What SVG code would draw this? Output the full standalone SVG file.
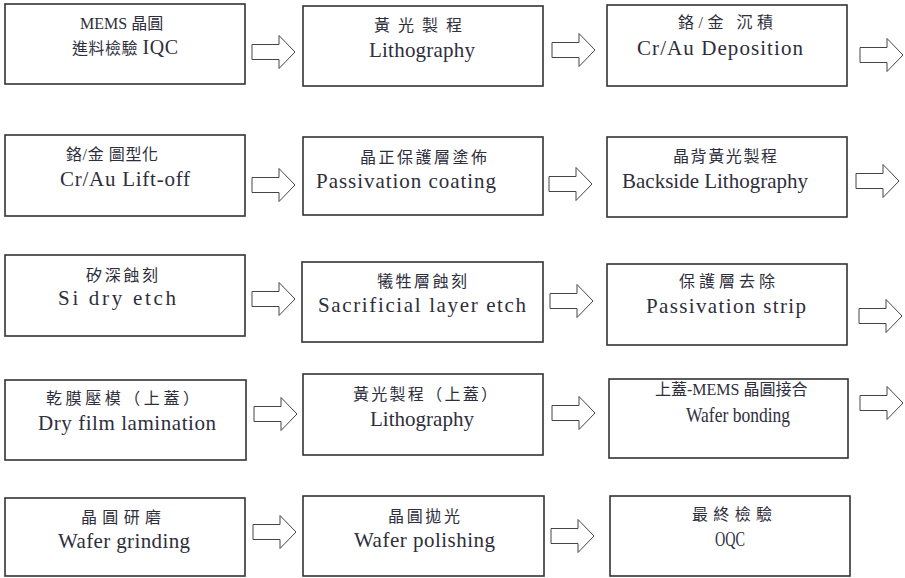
<svg xmlns="http://www.w3.org/2000/svg" xmlns:xlink="http://www.w3.org/1999/xlink" width="905" height="578" viewBox="0 0 905 578">
<style>
.box{fill:#fff;stroke:#333;stroke-width:1.6}
.arr{fill:#fff;stroke:#444;stroke-width:1}
text{font-family:"Liberation Serif","Noto Sans CJK TC",serif;fill:#2e2e3c}
.c{font-size:16px}
.l{font-size:21px}
.lt{font-size:20px}
</style>
<defs>
<path id="arrow" d="M0,-7.5 H27 V-16.5 L43,0 L27,16.5 V7.5 H0 Z"/>
</defs>
<rect width="905" height="578" fill="#fff"/>
<g id="connectors">
<use xlink:href="#arrow" class="arr" x="252" y="52"/>
<use xlink:href="#arrow" class="arr" x="552" y="50"/>
<use xlink:href="#arrow" class="arr" x="860" y="55"/>
<use xlink:href="#arrow" class="arr" x="252" y="185"/>
<use xlink:href="#arrow" class="arr" x="549" y="184"/>
<use xlink:href="#arrow" class="arr" x="856" y="181"/>
<use xlink:href="#arrow" class="arr" x="252" y="299"/>
<use xlink:href="#arrow" class="arr" x="550" y="301"/>
<use xlink:href="#arrow" class="arr" x="859" y="316"/>
<use xlink:href="#arrow" class="arr" x="254" y="414"/>
<use xlink:href="#arrow" class="arr" x="552" y="413"/>
<use xlink:href="#arrow" class="arr" x="860" y="403"/>
<use xlink:href="#arrow" class="arr" x="253" y="532"/>
<use xlink:href="#arrow" class="arr" x="551" y="536"/>
</g>
<g id="n1"><rect class="box" x="5" y="4" width="240" height="80"/>
<text class="c" x="80" y="29">MEMS 晶圓</text>
<text class="c" x="72" y="54" textLength="106">進料檢驗 <tspan class="lt">IQC</tspan></text></g>
<g id="n2"><rect class="box" x="303" y="6" width="240" height="80"/>
<text class="c" x="374" y="31" textLength="88">黃光製程</text>
<text class="l" x="369" y="57" textLength="106">Lithography</text></g>
<g id="n3"><rect class="box" x="607" y="5" width="240" height="81"/>
<text class="c" x="678" y="28" textLength="95">鉻/金 沉積</text>
<text class="l" x="637" y="55" textLength="166">Cr/Au Deposition</text></g>
<g id="n4"><rect class="box" x="5" y="135" width="240" height="81"/>
<text class="c" x="66" y="160" textLength="92">鉻/金 圖型化</text>
<text class="l" x="60" y="186" textLength="130">Cr/Au Lift-off</text></g>
<g id="n5"><rect class="box" x="303" y="137" width="240" height="78"/>
<text class="c" x="360" y="163" textLength="127">晶正保護層塗佈</text>
<text class="l" x="316" y="188" textLength="180">Passivation coating</text></g>
<g id="n6"><rect class="box" x="607" y="137" width="240" height="80"/>
<text class="c" x="673" y="162" textLength="104">晶背黃光製程</text>
<text class="l" x="622" y="188" textLength="186" lengthAdjust="spacingAndGlyphs">Backside Lithography</text></g>
<g id="n7"><rect class="box" x="5" y="255" width="240" height="81"/>
<text class="c" x="86" y="281" textLength="72">矽深蝕刻</text>
<text class="l" x="58" y="305" textLength="118">Si dry etch</text></g>
<g id="n8"><rect class="box" x="302" y="262" width="241" height="80"/>
<text class="c" x="377" y="287" textLength="90">犧牲層蝕刻</text>
<text class="l" x="318" y="312" textLength="208">Sacrificial layer etch</text></g>
<g id="n9"><rect class="box" x="607" y="264" width="240" height="81"/>
<text class="c" x="679" y="287" textLength="96">保護層去除</text>
<text class="l" x="646" y="313" textLength="160">Passivation strip</text></g>
<g id="n10"><rect class="box" x="5" y="380" width="241" height="80"/>
<text class="c" x="46" y="404" textLength="153">乾膜壓模（上蓋）</text>
<text class="l" x="38" y="430" textLength="178">Dry film lamination</text></g>
<g id="n11"><rect class="box" x="303" y="374" width="240" height="81"/>
<text class="c" x="353" y="400" textLength="144">黃光製程（上蓋）</text>
<text class="l" x="370" y="426" textLength="104" lengthAdjust="spacingAndGlyphs">Lithography</text></g>
<g id="n12"><rect class="box" x="609" y="379" width="239" height="79"/>
<text class="c" x="655" y="395">上蓋-MEMS 晶圓接合</text>
<text class="l" x="686" y="422" textLength="104" lengthAdjust="spacingAndGlyphs">Wafer bonding</text></g>
<g id="n13"><rect class="box" x="5" y="498" width="240" height="78"/>
<text class="c" x="81" y="523" textLength="80">晶圓研磨</text>
<text class="l" x="58" y="548" textLength="132">Wafer grinding</text></g>
<g id="n14"><rect class="box" x="303" y="496" width="241" height="80"/>
<text class="c" x="388" y="522" textLength="72">晶圓拋光</text>
<text class="l" x="354" y="547" textLength="141">Wafer polishing</text></g>
<g id="n15"><rect class="box" x="610" y="496" width="240" height="80"/>
<text class="c" x="692" y="520" textLength="80">最終檢驗</text>
<text class="l" x="715" y="546" textLength="30" lengthAdjust="spacingAndGlyphs">OQC</text></g>
</svg>
